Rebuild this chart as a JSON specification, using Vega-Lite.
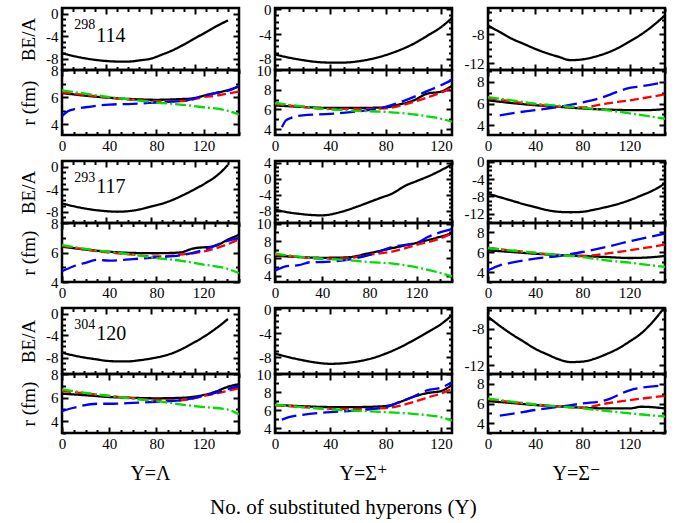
{
"$schema":"https://vega.github.io/schema/vega-lite/v6.json",
"background":"white",
"padding":{"left":17,"top":0,"right":5,"bottom":4},
"datasets":{"d":[
{"p":"L1","s":"BE","x":0,"v":-7.0},{"p":"L1","s":"BE","x":10,"v":-7.5},{"p":"L1","s":"BE","x":20,"v":-7.9},{"p":"L1","s":"BE","x":30,"v":-8.2},{"p":"L1","s":"BE","x":40,"v":-8.4},{"p":"L1","s":"BE","x":50,"v":-8.5},{"p":"L1","s":"BE","x":60,"v":-8.5},{"p":"L1","s":"BE","x":70,"v":-8.3},{"p":"L1","s":"BE","x":80,"v":-8.0},{"p":"L1","s":"BE","x":90,"v":-7.3},{"p":"L1","s":"BE","x":100,"v":-6.5},{"p":"L1","s":"BE","x":110,"v":-5.5},{"p":"L1","s":"BE","x":120,"v":-4.4},{"p":"L1","s":"BE","x":130,"v":-3.3},{"p":"L1","s":"BE","x":140,"v":-2.2},{"p":"L1","s":"BE","x":150,"v":-1.2},
{"p":"L1","s":"rm","x":0,"v":6.3},{"p":"L1","s":"rm","x":20,"v":6.1},{"p":"L1","s":"rm","x":40,"v":5.95},{"p":"L1","s":"rm","x":60,"v":5.85},{"p":"L1","s":"rm","x":80,"v":5.8},{"p":"L1","s":"rm","x":100,"v":5.85},{"p":"L1","s":"rm","x":110,"v":5.9},{"p":"L1","s":"rm","x":120,"v":6.1},{"p":"L1","s":"rm","x":130,"v":6.3},{"p":"L1","s":"rm","x":140,"v":6.5},{"p":"L1","s":"rm","x":150,"v":6.8},
{"p":"L1","s":"rp","x":0,"v":6.35},{"p":"L1","s":"rp","x":20,"v":6.15},{"p":"L1","s":"rp","x":40,"v":5.95},{"p":"L1","s":"rp","x":60,"v":5.8},{"p":"L1","s":"rp","x":80,"v":5.7},{"p":"L1","s":"rp","x":100,"v":5.7},{"p":"L1","s":"rp","x":110,"v":5.8},{"p":"L1","s":"rp","x":120,"v":6.0},{"p":"L1","s":"rp","x":130,"v":6.1},{"p":"L1","s":"rp","x":140,"v":6.25},{"p":"L1","s":"rp","x":150,"v":6.4},
{"p":"L1","s":"rY","x":0,"v":4.6},{"p":"L1","s":"rY","x":5,"v":4.95},{"p":"L1","s":"rY","x":10,"v":5.1},{"p":"L1","s":"rY","x":20,"v":5.25},{"p":"L1","s":"rY","x":40,"v":5.45},{"p":"L1","s":"rY","x":60,"v":5.5},{"p":"L1","s":"rY","x":80,"v":5.6},{"p":"L1","s":"rY","x":100,"v":5.7},{"p":"L1","s":"rY","x":110,"v":5.85},{"p":"L1","s":"rY","x":120,"v":6.1},{"p":"L1","s":"rY","x":130,"v":6.3},{"p":"L1","s":"rY","x":140,"v":6.45},{"p":"L1","s":"rY","x":150,"v":6.8},
{"p":"L1","s":"rn","x":0,"v":6.5},{"p":"L1","s":"rn","x":20,"v":6.25},{"p":"L1","s":"rn","x":40,"v":6.0},{"p":"L1","s":"rn","x":60,"v":5.8},{"p":"L1","s":"rn","x":80,"v":5.6},{"p":"L1","s":"rn","x":100,"v":5.45},{"p":"L1","s":"rn","x":120,"v":5.25},{"p":"L1","s":"rn","x":140,"v":5.0},{"p":"L1","s":"rn","x":150,"v":4.7},
{"p":"P1","s":"BE","x":0,"v":-7.3},{"p":"P1","s":"BE","x":10,"v":-7.8},{"p":"P1","s":"BE","x":20,"v":-8.2},{"p":"P1","s":"BE","x":30,"v":-8.5},{"p":"P1","s":"BE","x":40,"v":-8.6},{"p":"P1","s":"BE","x":50,"v":-8.6},{"p":"P1","s":"BE","x":60,"v":-8.4},{"p":"P1","s":"BE","x":70,"v":-8.0},{"p":"P1","s":"BE","x":80,"v":-7.4},{"p":"P1","s":"BE","x":90,"v":-6.6},{"p":"P1","s":"BE","x":100,"v":-5.6},{"p":"P1","s":"BE","x":110,"v":-4.3},{"p":"P1","s":"BE","x":120,"v":-2.9},{"p":"P1","s":"BE","x":128,"v":-1.4},
{"p":"P1","s":"rm","x":0,"v":6.4},{"p":"P1","s":"rm","x":20,"v":6.25},{"p":"P1","s":"rm","x":40,"v":6.15},{"p":"P1","s":"rm","x":60,"v":6.15},{"p":"P1","s":"rm","x":80,"v":6.2},{"p":"P1","s":"rm","x":90,"v":6.5},{"p":"P1","s":"rm","x":100,"v":6.9},{"p":"P1","s":"rm","x":110,"v":7.6},{"p":"P1","s":"rm","x":120,"v":7.8},{"p":"P1","s":"rm","x":128,"v":8.4},
{"p":"P1","s":"rp","x":0,"v":6.55},{"p":"P1","s":"rp","x":20,"v":6.25},{"p":"P1","s":"rp","x":40,"v":6.05},{"p":"P1","s":"rp","x":60,"v":6.05},{"p":"P1","s":"rp","x":80,"v":6.1},{"p":"P1","s":"rp","x":90,"v":6.35},{"p":"P1","s":"rp","x":100,"v":6.75},{"p":"P1","s":"rp","x":110,"v":7.2},{"p":"P1","s":"rp","x":120,"v":7.7},{"p":"P1","s":"rp","x":128,"v":8.2},
{"p":"P1","s":"rY","x":5,"v":4.2},{"p":"P1","s":"rY","x":8,"v":4.9},{"p":"P1","s":"rY","x":10,"v":5.05},{"p":"P1","s":"rY","x":20,"v":5.4},{"p":"P1","s":"rY","x":40,"v":5.55},{"p":"P1","s":"rY","x":60,"v":5.8},{"p":"P1","s":"rY","x":80,"v":6.25},{"p":"P1","s":"rY","x":90,"v":6.7},{"p":"P1","s":"rY","x":100,"v":7.25},{"p":"P1","s":"rY","x":110,"v":7.85},{"p":"P1","s":"rY","x":120,"v":8.45},{"p":"P1","s":"rY","x":128,"v":9.0},
{"p":"P1","s":"rn","x":0,"v":6.65},{"p":"P1","s":"rn","x":20,"v":6.3},{"p":"P1","s":"rn","x":40,"v":6.0},{"p":"P1","s":"rn","x":60,"v":5.85},{"p":"P1","s":"rn","x":80,"v":5.75},{"p":"P1","s":"rn","x":100,"v":5.5},{"p":"P1","s":"rn","x":110,"v":5.3},{"p":"P1","s":"rn","x":120,"v":5.05},{"p":"P1","s":"rn","x":128,"v":4.75},
{"p":"M1","s":"BE","x":0,"v":-6.8},{"p":"M1","s":"BE","x":10,"v":-7.7},{"p":"M1","s":"BE","x":20,"v":-8.6},{"p":"M1","s":"BE","x":30,"v":-9.3},{"p":"M1","s":"BE","x":40,"v":-10.0},{"p":"M1","s":"BE","x":50,"v":-10.6},{"p":"M1","s":"BE","x":60,"v":-11.1},{"p":"M1","s":"BE","x":70,"v":-11.55},{"p":"M1","s":"BE","x":80,"v":-11.45},{"p":"M1","s":"BE","x":90,"v":-11.1},{"p":"M1","s":"BE","x":100,"v":-10.6},{"p":"M1","s":"BE","x":110,"v":-9.9},{"p":"M1","s":"BE","x":120,"v":-9.0},{"p":"M1","s":"BE","x":130,"v":-8.0},{"p":"M1","s":"BE","x":140,"v":-6.8},{"p":"M1","s":"BE","x":150,"v":-5.4},
{"p":"M1","s":"rm","x":0,"v":6.3},{"p":"M1","s":"rm","x":20,"v":6.05},{"p":"M1","s":"rm","x":40,"v":5.85},{"p":"M1","s":"rm","x":60,"v":5.7},{"p":"M1","s":"rm","x":80,"v":5.55},{"p":"M1","s":"rm","x":100,"v":5.45},{"p":"M1","s":"rm","x":120,"v":5.4},{"p":"M1","s":"rm","x":135,"v":5.4},{"p":"M1","s":"rm","x":150,"v":5.5},
{"p":"M1","s":"rp","x":0,"v":6.5},{"p":"M1","s":"rp","x":20,"v":6.2},{"p":"M1","s":"rp","x":40,"v":5.9},{"p":"M1","s":"rp","x":60,"v":5.7},{"p":"M1","s":"rp","x":80,"v":5.65},{"p":"M1","s":"rp","x":100,"v":6.0},{"p":"M1","s":"rp","x":120,"v":6.3},{"p":"M1","s":"rp","x":150,"v":6.85},
{"p":"M1","s":"rY","x":10,"v":4.9},{"p":"M1","s":"rY","x":20,"v":5.1},{"p":"M1","s":"rY","x":40,"v":5.4},{"p":"M1","s":"rY","x":60,"v":5.7},{"p":"M1","s":"rY","x":80,"v":6.1},{"p":"M1","s":"rY","x":95,"v":6.5},{"p":"M1","s":"rY","x":110,"v":7.1},{"p":"M1","s":"rY","x":120,"v":7.45},{"p":"M1","s":"rY","x":130,"v":7.6},{"p":"M1","s":"rY","x":150,"v":8.0},
{"p":"M1","s":"rn","x":0,"v":6.6},{"p":"M1","s":"rn","x":20,"v":6.3},{"p":"M1","s":"rn","x":40,"v":6.0},{"p":"M1","s":"rn","x":60,"v":5.8},{"p":"M1","s":"rn","x":80,"v":5.6},{"p":"M1","s":"rn","x":100,"v":5.4},{"p":"M1","s":"rn","x":120,"v":5.1},{"p":"M1","s":"rn","x":150,"v":4.6},
{"p":"L2","s":"BE","x":0,"v":-6.5},{"p":"L2","s":"BE","x":10,"v":-7.0},{"p":"L2","s":"BE","x":20,"v":-7.4},{"p":"L2","s":"BE","x":30,"v":-7.7},{"p":"L2","s":"BE","x":40,"v":-7.9},{"p":"L2","s":"BE","x":50,"v":-8.0},{"p":"L2","s":"BE","x":60,"v":-7.9},{"p":"L2","s":"BE","x":70,"v":-7.6},{"p":"L2","s":"BE","x":80,"v":-7.1},{"p":"L2","s":"BE","x":90,"v":-6.6},{"p":"L2","s":"BE","x":100,"v":-5.9},{"p":"L2","s":"BE","x":110,"v":-5.0},{"p":"L2","s":"BE","x":120,"v":-4.0},{"p":"L2","s":"BE","x":130,"v":-2.9},{"p":"L2","s":"BE","x":140,"v":-1.6},{"p":"L2","s":"BE","x":150,"v":0.3},
{"p":"L2","s":"rm","x":0,"v":6.4},{"p":"L2","s":"rm","x":20,"v":6.2},{"p":"L2","s":"rm","x":40,"v":6.05},{"p":"L2","s":"rm","x":60,"v":5.97},{"p":"L2","s":"rm","x":80,"v":5.95},{"p":"L2","s":"rm","x":100,"v":6.0},{"p":"L2","s":"rm","x":110,"v":6.25},{"p":"L2","s":"rm","x":130,"v":6.45},{"p":"L2","s":"rm","x":140,"v":6.85},{"p":"L2","s":"rm","x":150,"v":7.2},
{"p":"L2","s":"rp","x":0,"v":6.45},{"p":"L2","s":"rp","x":20,"v":6.2},{"p":"L2","s":"rp","x":40,"v":6.0},{"p":"L2","s":"rp","x":60,"v":5.85},{"p":"L2","s":"rp","x":80,"v":5.73},{"p":"L2","s":"rp","x":100,"v":5.85},{"p":"L2","s":"rp","x":120,"v":6.07},{"p":"L2","s":"rp","x":140,"v":6.55},{"p":"L2","s":"rp","x":150,"v":6.9},
{"p":"L2","s":"rY","x":0,"v":4.73},{"p":"L2","s":"rY","x":10,"v":5.07},{"p":"L2","s":"rY","x":20,"v":5.3},{"p":"L2","s":"rY","x":30,"v":5.5},{"p":"L2","s":"rY","x":40,"v":5.45},{"p":"L2","s":"rY","x":60,"v":5.55},{"p":"L2","s":"rY","x":80,"v":5.67},{"p":"L2","s":"rY","x":100,"v":5.8},{"p":"L2","s":"rY","x":120,"v":6.18},{"p":"L2","s":"rY","x":140,"v":6.78},{"p":"L2","s":"rY","x":150,"v":7.0},
{"p":"L2","s":"rn","x":0,"v":6.5},{"p":"L2","s":"rn","x":20,"v":6.25},{"p":"L2","s":"rn","x":40,"v":6.05},{"p":"L2","s":"rn","x":60,"v":5.85},{"p":"L2","s":"rn","x":80,"v":5.62},{"p":"L2","s":"rn","x":100,"v":5.45},{"p":"L2","s":"rn","x":120,"v":5.18},{"p":"L2","s":"rn","x":140,"v":4.9},{"p":"L2","s":"rn","x":150,"v":4.6},
{"p":"P2","s":"BE","x":0,"v":-7.6},{"p":"P2","s":"BE","x":10,"v":-8.3},{"p":"P2","s":"BE","x":20,"v":-8.7},{"p":"P2","s":"BE","x":30,"v":-9.0},{"p":"P2","s":"BE","x":40,"v":-9.1},{"p":"P2","s":"BE","x":50,"v":-8.7},{"p":"P2","s":"BE","x":60,"v":-7.9},{"p":"P2","s":"BE","x":70,"v":-6.9},{"p":"P2","s":"BE","x":80,"v":-5.8},{"p":"P2","s":"BE","x":90,"v":-4.7},{"p":"P2","s":"BE","x":100,"v":-3.6},{"p":"P2","s":"BE","x":110,"v":-1.8},{"p":"P2","s":"BE","x":120,"v":-0.6},{"p":"P2","s":"BE","x":130,"v":0.6},{"p":"P2","s":"BE","x":140,"v":2.0},{"p":"P2","s":"BE","x":150,"v":3.6},
{"p":"P2","s":"rm","x":0,"v":6.3},{"p":"P2","s":"rm","x":20,"v":6.15},{"p":"P2","s":"rm","x":40,"v":6.06},{"p":"P2","s":"rm","x":60,"v":6.1},{"p":"P2","s":"rm","x":80,"v":6.6},{"p":"P2","s":"rm","x":100,"v":7.2},{"p":"P2","s":"rm","x":120,"v":7.8},{"p":"P2","s":"rm","x":140,"v":8.5},{"p":"P2","s":"rm","x":150,"v":8.9},
{"p":"P2","s":"rp","x":0,"v":6.4},{"p":"P2","s":"rp","x":20,"v":6.15},{"p":"P2","s":"rp","x":40,"v":5.95},{"p":"P2","s":"rp","x":60,"v":6.0},{"p":"P2","s":"rp","x":80,"v":6.4},{"p":"P2","s":"rp","x":100,"v":6.8},{"p":"P2","s":"rp","x":120,"v":7.55},{"p":"P2","s":"rp","x":140,"v":8.3},{"p":"P2","s":"rp","x":150,"v":8.9},
{"p":"P2","s":"rY","x":0,"v":4.56},{"p":"P2","s":"rY","x":10,"v":5.1},{"p":"P2","s":"rY","x":20,"v":5.2},{"p":"P2","s":"rY","x":30,"v":5.55},{"p":"P2","s":"rY","x":40,"v":5.57},{"p":"P2","s":"rY","x":60,"v":5.8},{"p":"P2","s":"rY","x":80,"v":6.4},{"p":"P2","s":"rY","x":100,"v":7.35},{"p":"P2","s":"rY","x":120,"v":7.8},{"p":"P2","s":"rY","x":130,"v":8.5},{"p":"P2","s":"rY","x":150,"v":9.4},
{"p":"P2","s":"rn","x":0,"v":6.55},{"p":"P2","s":"rn","x":20,"v":6.2},{"p":"P2","s":"rn","x":40,"v":5.95},{"p":"P2","s":"rn","x":60,"v":5.8},{"p":"P2","s":"rn","x":80,"v":5.57},{"p":"P2","s":"rn","x":100,"v":5.38},{"p":"P2","s":"rn","x":120,"v":4.95},{"p":"P2","s":"rn","x":140,"v":4.3},{"p":"P2","s":"rn","x":150,"v":3.9},
{"p":"M2","s":"BE","x":0,"v":-7.4},{"p":"M2","s":"BE","x":10,"v":-8.2},{"p":"M2","s":"BE","x":20,"v":-9.0},{"p":"M2","s":"BE","x":30,"v":-9.8},{"p":"M2","s":"BE","x":40,"v":-10.5},{"p":"M2","s":"BE","x":50,"v":-11.2},{"p":"M2","s":"BE","x":60,"v":-11.6},{"p":"M2","s":"BE","x":70,"v":-11.7},{"p":"M2","s":"BE","x":80,"v":-11.6},{"p":"M2","s":"BE","x":90,"v":-11.1},{"p":"M2","s":"BE","x":100,"v":-10.5},{"p":"M2","s":"BE","x":110,"v":-9.8},{"p":"M2","s":"BE","x":120,"v":-8.9},{"p":"M2","s":"BE","x":130,"v":-7.8},{"p":"M2","s":"BE","x":140,"v":-6.6},{"p":"M2","s":"BE","x":150,"v":-5.0},
{"p":"M2","s":"rm","x":0,"v":6.17},{"p":"M2","s":"rm","x":20,"v":6.0},{"p":"M2","s":"rm","x":40,"v":5.83},{"p":"M2","s":"rm","x":60,"v":5.7},{"p":"M2","s":"rm","x":80,"v":5.6},{"p":"M2","s":"rm","x":100,"v":5.5},{"p":"M2","s":"rm","x":120,"v":5.4},{"p":"M2","s":"rm","x":135,"v":5.45},{"p":"M2","s":"rm","x":150,"v":5.6},
{"p":"M2","s":"rp","x":0,"v":6.4},{"p":"M2","s":"rp","x":20,"v":6.15},{"p":"M2","s":"rp","x":40,"v":5.9},{"p":"M2","s":"rp","x":60,"v":5.67},{"p":"M2","s":"rp","x":80,"v":5.6},{"p":"M2","s":"rp","x":100,"v":5.83},{"p":"M2","s":"rp","x":120,"v":6.17},{"p":"M2","s":"rp","x":150,"v":6.73},
{"p":"M2","s":"rY","x":0,"v":4.17},{"p":"M2","s":"rY","x":10,"v":4.67},{"p":"M2","s":"rY","x":20,"v":4.93},{"p":"M2","s":"rY","x":40,"v":5.33},{"p":"M2","s":"rY","x":60,"v":5.6},{"p":"M2","s":"rY","x":80,"v":6.0},{"p":"M2","s":"rY","x":100,"v":6.5},{"p":"M2","s":"rY","x":120,"v":7.07},{"p":"M2","s":"rY","x":150,"v":7.83},
{"p":"M2","s":"rn","x":0,"v":6.4},{"p":"M2","s":"rn","x":20,"v":6.15},{"p":"M2","s":"rn","x":40,"v":5.93},{"p":"M2","s":"rn","x":60,"v":5.7},{"p":"M2","s":"rn","x":80,"v":5.5},{"p":"M2","s":"rn","x":100,"v":5.17},{"p":"M2","s":"rn","x":120,"v":4.93},{"p":"M2","s":"rn","x":150,"v":4.5},
{"p":"L3","s":"BE","x":0,"v":-7.1},{"p":"L3","s":"BE","x":10,"v":-7.6},{"p":"L3","s":"BE","x":20,"v":-8.0},{"p":"L3","s":"BE","x":30,"v":-8.3},{"p":"L3","s":"BE","x":40,"v":-8.6},{"p":"L3","s":"BE","x":50,"v":-8.7},{"p":"L3","s":"BE","x":60,"v":-8.7},{"p":"L3","s":"BE","x":70,"v":-8.5},{"p":"L3","s":"BE","x":80,"v":-8.2},{"p":"L3","s":"BE","x":90,"v":-7.8},{"p":"L3","s":"BE","x":100,"v":-7.2},{"p":"L3","s":"BE","x":110,"v":-6.3},{"p":"L3","s":"BE","x":120,"v":-5.2},{"p":"L3","s":"BE","x":130,"v":-4.0},{"p":"L3","s":"BE","x":140,"v":-2.6},{"p":"L3","s":"BE","x":150,"v":-1.0},
{"p":"L3","s":"rm","x":0,"v":6.33},{"p":"L3","s":"rm","x":20,"v":6.2},{"p":"L3","s":"rm","x":40,"v":6.05},{"p":"L3","s":"rm","x":60,"v":5.98},{"p":"L3","s":"rm","x":80,"v":5.94},{"p":"L3","s":"rm","x":100,"v":5.98},{"p":"L3","s":"rm","x":110,"v":6.05},{"p":"L3","s":"rm","x":130,"v":6.5},{"p":"L3","s":"rm","x":140,"v":6.9},{"p":"L3","s":"rm","x":150,"v":7.14},
{"p":"L3","s":"rp","x":0,"v":6.56},{"p":"L3","s":"rp","x":20,"v":6.35},{"p":"L3","s":"rp","x":40,"v":6.14},{"p":"L3","s":"rp","x":60,"v":5.95},{"p":"L3","s":"rp","x":80,"v":5.8},{"p":"L3","s":"rp","x":100,"v":5.77},{"p":"L3","s":"rp","x":120,"v":6.14},{"p":"L3","s":"rp","x":140,"v":6.56},{"p":"L3","s":"rp","x":150,"v":6.8},
{"p":"L3","s":"rY","x":0,"v":4.85},{"p":"L3","s":"rY","x":10,"v":5.14},{"p":"L3","s":"rY","x":30,"v":5.48},{"p":"L3","s":"rY","x":40,"v":5.48},{"p":"L3","s":"rY","x":60,"v":5.55},{"p":"L3","s":"rY","x":80,"v":5.65},{"p":"L3","s":"rY","x":100,"v":5.77},{"p":"L3","s":"rY","x":120,"v":6.14},{"p":"L3","s":"rY","x":140,"v":6.7},{"p":"L3","s":"rY","x":150,"v":7.0},
{"p":"L3","s":"rn","x":0,"v":6.7},{"p":"L3","s":"rn","x":20,"v":6.4},{"p":"L3","s":"rn","x":40,"v":6.14},{"p":"L3","s":"rn","x":60,"v":5.9},{"p":"L3","s":"rn","x":80,"v":5.71},{"p":"L3","s":"rn","x":100,"v":5.43},{"p":"L3","s":"rn","x":120,"v":5.2},{"p":"L3","s":"rn","x":140,"v":5.0},{"p":"L3","s":"rn","x":150,"v":4.57},
{"p":"P3","s":"BE","x":0,"v":-7.4},{"p":"P3","s":"BE","x":10,"v":-8.0},{"p":"P3","s":"BE","x":20,"v":-8.5},{"p":"P3","s":"BE","x":30,"v":-8.9},{"p":"P3","s":"BE","x":40,"v":-9.1},{"p":"P3","s":"BE","x":50,"v":-9.0},{"p":"P3","s":"BE","x":60,"v":-8.7},{"p":"P3","s":"BE","x":70,"v":-8.2},{"p":"P3","s":"BE","x":80,"v":-7.4},{"p":"P3","s":"BE","x":90,"v":-6.4},{"p":"P3","s":"BE","x":100,"v":-5.2},{"p":"P3","s":"BE","x":110,"v":-3.9},{"p":"P3","s":"BE","x":120,"v":-2.5},{"p":"P3","s":"BE","x":128,"v":-1.0},
{"p":"P3","s":"rm","x":0,"v":6.6},{"p":"P3","s":"rm","x":20,"v":6.45},{"p":"P3","s":"rm","x":40,"v":6.36},{"p":"P3","s":"rm","x":60,"v":6.36},{"p":"P3","s":"rm","x":80,"v":6.47},{"p":"P3","s":"rm","x":90,"v":6.9},{"p":"P3","s":"rm","x":100,"v":7.48},{"p":"P3","s":"rm","x":110,"v":7.9},{"p":"P3","s":"rm","x":120,"v":8.12},{"p":"P3","s":"rm","x":128,"v":8.8},
{"p":"P3","s":"rp","x":0,"v":6.55},{"p":"P3","s":"rp","x":20,"v":6.35},{"p":"P3","s":"rp","x":40,"v":6.17},{"p":"P3","s":"rp","x":60,"v":6.15},{"p":"P3","s":"rp","x":80,"v":6.25},{"p":"P3","s":"rp","x":90,"v":6.5},{"p":"P3","s":"rp","x":100,"v":6.9},{"p":"P3","s":"rp","x":110,"v":7.4},{"p":"P3","s":"rp","x":120,"v":7.85},{"p":"P3","s":"rp","x":128,"v":8.35},
{"p":"P3","s":"rY","x":5,"v":4.98},{"p":"P3","s":"rY","x":10,"v":5.24},{"p":"P3","s":"rY","x":20,"v":5.5},{"p":"P3","s":"rY","x":40,"v":5.8},{"p":"P3","s":"rY","x":60,"v":6.0},{"p":"P3","s":"rY","x":80,"v":6.36},{"p":"P3","s":"rY","x":90,"v":6.9},{"p":"P3","s":"rY","x":100,"v":7.5},{"p":"P3","s":"rY","x":110,"v":8.2},{"p":"P3","s":"rY","x":120,"v":8.5},{"p":"P3","s":"rY","x":128,"v":9.1},
{"p":"P3","s":"rn","x":0,"v":6.62},{"p":"P3","s":"rn","x":20,"v":6.35},{"p":"P3","s":"rn","x":40,"v":6.1},{"p":"P3","s":"rn","x":60,"v":5.95},{"p":"P3","s":"rn","x":80,"v":5.8},{"p":"P3","s":"rn","x":100,"v":5.6},{"p":"P3","s":"rn","x":120,"v":5.24},{"p":"P3","s":"rn","x":128,"v":4.87},
{"p":"M3","s":"BE","x":0,"v":-6.7},{"p":"M3","s":"BE","x":10,"v":-7.7},{"p":"M3","s":"BE","x":20,"v":-8.6},{"p":"M3","s":"BE","x":30,"v":-9.4},{"p":"M3","s":"BE","x":40,"v":-10.2},{"p":"M3","s":"BE","x":50,"v":-10.8},{"p":"M3","s":"BE","x":60,"v":-11.35},{"p":"M3","s":"BE","x":70,"v":-11.65},{"p":"M3","s":"BE","x":80,"v":-11.6},{"p":"M3","s":"BE","x":90,"v":-11.3},{"p":"M3","s":"BE","x":100,"v":-10.8},{"p":"M3","s":"BE","x":110,"v":-10.2},{"p":"M3","s":"BE","x":120,"v":-9.4},{"p":"M3","s":"BE","x":130,"v":-8.5},{"p":"M3","s":"BE","x":140,"v":-7.2},{"p":"M3","s":"BE","x":150,"v":-5.6},
{"p":"M3","s":"rm","x":0,"v":6.24},{"p":"M3","s":"rm","x":20,"v":6.05},{"p":"M3","s":"rm","x":40,"v":5.84},{"p":"M3","s":"rm","x":60,"v":5.7},{"p":"M3","s":"rm","x":80,"v":5.57},{"p":"M3","s":"rm","x":100,"v":5.5},{"p":"M3","s":"rm","x":120,"v":5.5},{"p":"M3","s":"rm","x":130,"v":5.67},{"p":"M3","s":"rm","x":150,"v":5.5},
{"p":"M3","s":"rp","x":0,"v":6.44},{"p":"M3","s":"rp","x":20,"v":6.15},{"p":"M3","s":"rp","x":40,"v":5.9},{"p":"M3","s":"rp","x":60,"v":5.7},{"p":"M3","s":"rp","x":80,"v":5.57},{"p":"M3","s":"rp","x":100,"v":6.0},{"p":"M3","s":"rp","x":120,"v":6.34},{"p":"M3","s":"rp","x":150,"v":6.77},
{"p":"M3","s":"rY","x":10,"v":4.77},{"p":"M3","s":"rY","x":20,"v":4.95},{"p":"M3","s":"rY","x":40,"v":5.34},{"p":"M3","s":"rY","x":60,"v":5.67},{"p":"M3","s":"rY","x":80,"v":6.0},{"p":"M3","s":"rY","x":100,"v":6.34},{"p":"M3","s":"rY","x":120,"v":7.34},{"p":"M3","s":"rY","x":150,"v":7.84},
{"p":"M3","s":"rn","x":0,"v":6.5},{"p":"M3","s":"rn","x":20,"v":6.2},{"p":"M3","s":"rn","x":40,"v":5.9},{"p":"M3","s":"rn","x":60,"v":5.7},{"p":"M3","s":"rn","x":80,"v":5.5},{"p":"M3","s":"rn","x":100,"v":5.24},{"p":"M3","s":"rn","x":120,"v":5.0},{"p":"M3","s":"rn","x":150,"v":4.67}
]},
"data":{"name":"d"},
"title":{"text":"No. of substituted hyperons (Y)","orient":"bottom","offset":12,"fontSize":21},
"columns":3,
"spacing":{"row":0,"column":36},
"bounds":"flush",
"concat":[
  {"width":177,"height":62,"transform":[{"filter":"datum.p==='L1'&&datum.s==='BE'"}],
   "layer":[
    {"mark":{"type":"line","interpolate":"monotone","strokeWidth":2.3,"clip":true},
     "encoding":{
      "x":{"field":"x","type":"quantitative","scale":{"domain":[0,150]},"axis":{"orient":"bottom","values":[0,10,20,30,40,50,60,70,80,90,100,110,120,130,140,150],"labels":false,"title":null,"tickSize":{"condition":{"test":"datum.value % 40 === 0","value":-6},"value":-3.5}}},
      "y":{"field":"v","type":"quantitative","scale":{"domain":[-9.8,0.2]},"axis":{"orient":"left","values":[-9,-8,-7,-6,-5,-4,-3,-2,-1,0],"title":"BE/A","titleX":-24,"labelExpr":"datum.value % 4 === 0 ? toString(datum.value) : ''","tickSize":{"condition":{"test":"datum.value % 4 === 0","value":-6},"value":-3.5}}},
      "color":{"field":"s","type":"nominal","scale":{"domain":["BE","rm","rp","rY","rn"],"range":["#000000","#000000","#ff0000","#0000ff","#00dd00"]},"legend":null},
      "strokeDash":{"field":"s","type":"nominal","scale":{"domain":["BE","rm","rp","rY","rn"],"range":[[1,0],[1,0],[9,4],[15,6],[11,3,2,3]]},"legend":null}}},
    {"mark":{"type":"point","opacity":0},
     "encoding":{
      "x":{"field":"x","type":"quantitative","scale":{"domain":[0,150]},"axis":{"orient":"top","values":[0,10,20,30,40,50,60,70,80,90,100,110,120,130,140,150],"labels":false,"title":null,"tickSize":{"condition":{"test":"datum.value % 40 === 0","value":-6},"value":-3.5}}},
      "y":{"field":"v","type":"quantitative","scale":{"domain":[-9.8,0.2]},"axis":{"orient":"right","values":[-9,-8,-7,-6,-5,-4,-3,-2,-1,0],"labels":false,"title":null,"tickSize":{"condition":{"test":"datum.value % 4 === 0","value":-6},"value":-3.5}}}}},
    {"data":{"values":[{"t":"298"}]},"mark":{"type":"text","fontSize":14,"align":"left","baseline":"middle"},"encoding":{"text":{"field":"t","type":"nominal"},"x":{"datum":11,"axis":null},"y":{"datum":-2.1,"axis":null}}},
    {"data":{"values":[{"t":"114"}]},"mark":{"type":"text","fontSize":20,"align":"left","baseline":"middle"},"encoding":{"text":{"field":"t","type":"nominal"},"x":{"datum":31,"axis":null},"y":{"datum":-3.9,"axis":null}}}
   ],
   "resolve":{"axis":{"x":"independent","y":"independent"}}},
  {"width":177,"height":62,"transform":[{"filter":"datum.p==='P1'&&datum.s==='BE'"}],
   "layer":[
    {"mark":{"type":"line","interpolate":"monotone","strokeWidth":2.3,"clip":true},
     "encoding":{
      "x":{"field":"x","type":"quantitative","scale":{"domain":[0,128]},"axis":{"orient":"bottom","values":[0,10,20,30,40,50,60,70,80,90,100,110,120],"labels":false,"title":null,"tickSize":{"condition":{"test":"datum.value % 40 === 0","value":-6},"value":-3.5}}},
      "y":{"field":"v","type":"quantitative","scale":{"domain":[-9.8,0.2]},"axis":{"orient":"left","values":[-9,-8,-7,-6,-5,-4,-3,-2,-1,0],"title":null,"labelExpr":"datum.value % 4 === 0 ? toString(datum.value) : ''","tickSize":{"condition":{"test":"datum.value % 4 === 0","value":-6},"value":-3.5}}},
      "color":{"field":"s","type":"nominal","scale":{"domain":["BE","rm","rp","rY","rn"],"range":["#000000","#000000","#ff0000","#0000ff","#00dd00"]},"legend":null},
      "strokeDash":{"field":"s","type":"nominal","scale":{"domain":["BE","rm","rp","rY","rn"],"range":[[1,0],[1,0],[9,4],[15,6],[11,3,2,3]]},"legend":null}}},
    {"mark":{"type":"point","opacity":0},
     "encoding":{
      "x":{"field":"x","type":"quantitative","scale":{"domain":[0,128]},"axis":{"orient":"top","values":[0,10,20,30,40,50,60,70,80,90,100,110,120],"labels":false,"title":null,"tickSize":{"condition":{"test":"datum.value % 40 === 0","value":-6},"value":-3.5}}},
      "y":{"field":"v","type":"quantitative","scale":{"domain":[-9.8,0.2]},"axis":{"orient":"right","values":[-9,-8,-7,-6,-5,-4,-3,-2,-1,0],"labels":false,"title":null,"tickSize":{"condition":{"test":"datum.value % 4 === 0","value":-6},"value":-3.5}}}}}
   ],
   "resolve":{"axis":{"x":"independent","y":"independent"}}},
  {"width":177,"height":62,"transform":[{"filter":"datum.p==='M1'&&datum.s==='BE'"}],
   "layer":[
    {"mark":{"type":"line","interpolate":"monotone","strokeWidth":2.3,"clip":true},
     "encoding":{
      "x":{"field":"x","type":"quantitative","scale":{"domain":[0,150]},"axis":{"orient":"bottom","values":[0,10,20,30,40,50,60,70,80,90,100,110,120,130,140,150],"labels":false,"title":null,"tickSize":{"condition":{"test":"datum.value % 40 === 0","value":-6},"value":-3.5}}},
      "y":{"field":"v","type":"quantitative","scale":{"domain":[-12.9,-4.4]},"axis":{"orient":"left","values":[-12,-11,-10,-9,-8,-7,-6,-5],"title":null,"labelExpr":"datum.value % 4 === 0 ? toString(datum.value) : ''","tickSize":{"condition":{"test":"datum.value % 4 === 0","value":-6},"value":-3.5}}},
      "color":{"field":"s","type":"nominal","scale":{"domain":["BE","rm","rp","rY","rn"],"range":["#000000","#000000","#ff0000","#0000ff","#00dd00"]},"legend":null},
      "strokeDash":{"field":"s","type":"nominal","scale":{"domain":["BE","rm","rp","rY","rn"],"range":[[1,0],[1,0],[9,4],[15,6],[11,3,2,3]]},"legend":null}}},
    {"mark":{"type":"point","opacity":0},
     "encoding":{
      "x":{"field":"x","type":"quantitative","scale":{"domain":[0,150]},"axis":{"orient":"top","values":[0,10,20,30,40,50,60,70,80,90,100,110,120,130,140,150],"labels":false,"title":null,"tickSize":{"condition":{"test":"datum.value % 40 === 0","value":-6},"value":-3.5}}},
      "y":{"field":"v","type":"quantitative","scale":{"domain":[-12.9,-4.4]},"axis":{"orient":"right","values":[-12,-11,-10,-9,-8,-7,-6,-5],"labels":false,"title":null,"tickSize":{"condition":{"test":"datum.value % 4 === 0","value":-6},"value":-3.5}}}}}
   ],
   "resolve":{"axis":{"x":"independent","y":"independent"}}},

  {"width":177,"height":65,"transform":[{"filter":"datum.p==='L1'&&datum.s!=='BE'"}],
   "layer":[
    {"mark":{"type":"line","interpolate":"monotone","strokeWidth":2.3,"clip":true},
     "encoding":{
      "x":{"field":"x","type":"quantitative","scale":{"domain":[0,150]},"axis":{"orient":"bottom","values":[0,10,20,30,40,50,60,70,80,90,100,110,120,130,140,150],"title":null,"labelExpr":"datum.value % 40 === 0 ? datum.label : ''","tickSize":{"condition":{"test":"datum.value % 40 === 0","value":-6},"value":-3.5}}},
      "y":{"field":"v","type":"quantitative","scale":{"domain":[3.2,8]},"axis":{"orient":"left","values":[4,5,6,7,8],"title":"r (fm)","titleX":-24,"labelExpr":"datum.value % 2 === 0 ? toString(datum.value) : ''","tickSize":{"condition":{"test":"datum.value % 2 === 0","value":-6},"value":-3.5}}},
      "color":{"field":"s","type":"nominal","scale":{"domain":["BE","rm","rp","rY","rn"],"range":["#000000","#000000","#ff0000","#0000ff","#00dd00"]},"legend":null},
      "strokeDash":{"field":"s","type":"nominal","scale":{"domain":["BE","rm","rp","rY","rn"],"range":[[1,0],[1,0],[9,4],[15,6],[11,3,2,3]]},"legend":null}}},
    {"mark":{"type":"point","opacity":0},
     "encoding":{
      "x":{"field":"x","type":"quantitative","scale":{"domain":[0,150]},"axis":{"orient":"top","values":[0,10,20,30,40,50,60,70,80,90,100,110,120,130,140,150],"labels":false,"title":null,"tickSize":{"condition":{"test":"datum.value % 40 === 0","value":-6},"value":-3.5}}},
      "y":{"field":"v","type":"quantitative","scale":{"domain":[3.2,8]},"axis":{"orient":"right","values":[4,5,6,7,8],"labels":false,"title":null,"tickSize":{"condition":{"test":"datum.value % 2 === 0","value":-6},"value":-3.5}}}}}
   ],
   "resolve":{"axis":{"x":"independent","y":"independent"}}},
  {"width":177,"height":65,"transform":[{"filter":"datum.p==='P1'&&datum.s!=='BE'"}],
   "layer":[
    {"mark":{"type":"line","interpolate":"monotone","strokeWidth":2.3,"clip":true},
     "encoding":{
      "x":{"field":"x","type":"quantitative","scale":{"domain":[0,128]},"axis":{"orient":"bottom","values":[0,10,20,30,40,50,60,70,80,90,100,110,120],"title":null,"labelExpr":"datum.value % 40 === 0 ? datum.label : ''","tickSize":{"condition":{"test":"datum.value % 40 === 0","value":-6},"value":-3.5}}},
      "y":{"field":"v","type":"quantitative","scale":{"domain":[3.4,10]},"axis":{"orient":"left","values":[4,5,6,7,8,9,10],"title":null,"labelExpr":"datum.value % 2 === 0 ? toString(datum.value) : ''","tickSize":{"condition":{"test":"datum.value % 2 === 0","value":-6},"value":-3.5}}},
      "color":{"field":"s","type":"nominal","scale":{"domain":["BE","rm","rp","rY","rn"],"range":["#000000","#000000","#ff0000","#0000ff","#00dd00"]},"legend":null},
      "strokeDash":{"field":"s","type":"nominal","scale":{"domain":["BE","rm","rp","rY","rn"],"range":[[1,0],[1,0],[9,4],[15,6],[11,3,2,3]]},"legend":null}}},
    {"mark":{"type":"point","opacity":0},
     "encoding":{
      "x":{"field":"x","type":"quantitative","scale":{"domain":[0,128]},"axis":{"orient":"top","values":[0,10,20,30,40,50,60,70,80,90,100,110,120],"labels":false,"title":null,"tickSize":{"condition":{"test":"datum.value % 40 === 0","value":-6},"value":-3.5}}},
      "y":{"field":"v","type":"quantitative","scale":{"domain":[3.4,10]},"axis":{"orient":"right","values":[4,5,6,7,8,9,10],"labels":false,"title":null,"tickSize":{"condition":{"test":"datum.value % 2 === 0","value":-6},"value":-3.5}}}}}
   ],
   "resolve":{"axis":{"x":"independent","y":"independent"}}},
  {"width":177,"height":65,"transform":[{"filter":"datum.p==='M1'&&datum.s!=='BE'"}],
   "layer":[
    {"mark":{"type":"line","interpolate":"monotone","strokeWidth":2.3,"clip":true},
     "encoding":{
      "x":{"field":"x","type":"quantitative","scale":{"domain":[0,150]},"axis":{"orient":"bottom","values":[0,10,20,30,40,50,60,70,80,90,100,110,120,130,140,150],"title":null,"labelExpr":"datum.value % 40 === 0 ? datum.label : ''","tickSize":{"condition":{"test":"datum.value % 40 === 0","value":-6},"value":-3.5}}},
      "y":{"field":"v","type":"quantitative","scale":{"domain":[3.1,9.1]},"axis":{"orient":"left","values":[4,5,6,7,8,9],"title":null,"labelExpr":"datum.value % 2 === 0 ? toString(datum.value) : ''","tickSize":{"condition":{"test":"datum.value % 2 === 0","value":-6},"value":-3.5}}},
      "color":{"field":"s","type":"nominal","scale":{"domain":["BE","rm","rp","rY","rn"],"range":["#000000","#000000","#ff0000","#0000ff","#00dd00"]},"legend":null},
      "strokeDash":{"field":"s","type":"nominal","scale":{"domain":["BE","rm","rp","rY","rn"],"range":[[1,0],[1,0],[9,4],[15,6],[11,3,2,3]]},"legend":null}}},
    {"mark":{"type":"point","opacity":0},
     "encoding":{
      "x":{"field":"x","type":"quantitative","scale":{"domain":[0,150]},"axis":{"orient":"top","values":[0,10,20,30,40,50,60,70,80,90,100,110,120,130,140,150],"labels":false,"title":null,"tickSize":{"condition":{"test":"datum.value % 40 === 0","value":-6},"value":-3.5}}},
      "y":{"field":"v","type":"quantitative","scale":{"domain":[3.1,9.1]},"axis":{"orient":"right","values":[4,5,6,7,8,9],"labels":false,"title":null,"tickSize":{"condition":{"test":"datum.value % 2 === 0","value":-6},"value":-3.5}}}}}
   ],
   "resolve":{"axis":{"x":"independent","y":"independent"}}},

  {"width":177,"height":26,"view":{"stroke":null},"transform":[{"filter":"false"}],"mark":{"type":"point","opacity":0}},
  {"width":177,"height":26,"view":{"stroke":null},"transform":[{"filter":"false"}],"mark":{"type":"point","opacity":0}},
  {"width":177,"height":26,"view":{"stroke":null},"transform":[{"filter":"false"}],"mark":{"type":"point","opacity":0}},

  {"width":177,"height":62,"transform":[{"filter":"datum.p==='L2'&&datum.s==='BE'"}],
   "layer":[
    {"mark":{"type":"line","interpolate":"monotone","strokeWidth":2.3,"clip":true},
     "encoding":{
      "x":{"field":"x","type":"quantitative","scale":{"domain":[0,150]},"axis":{"orient":"bottom","values":[0,10,20,30,40,50,60,70,80,90,100,110,120,130,140,150],"labels":false,"title":null,"tickSize":{"condition":{"test":"datum.value % 40 === 0","value":-6},"value":-3.5}}},
      "y":{"field":"v","type":"quantitative","scale":{"domain":[-9.7,0.45]},"axis":{"orient":"left","values":[-9,-8,-7,-6,-5,-4,-3,-2,-1,0],"title":"BE/A","titleX":-24,"labelExpr":"datum.value % 4 === 0 ? toString(datum.value) : ''","tickSize":{"condition":{"test":"datum.value % 4 === 0","value":-6},"value":-3.5}}},
      "color":{"field":"s","type":"nominal","scale":{"domain":["BE","rm","rp","rY","rn"],"range":["#000000","#000000","#ff0000","#0000ff","#00dd00"]},"legend":null},
      "strokeDash":{"field":"s","type":"nominal","scale":{"domain":["BE","rm","rp","rY","rn"],"range":[[1,0],[1,0],[9,4],[15,6],[11,3,2,3]]},"legend":null}}},
    {"mark":{"type":"point","opacity":0},
     "encoding":{
      "x":{"field":"x","type":"quantitative","scale":{"domain":[0,150]},"axis":{"orient":"top","values":[0,10,20,30,40,50,60,70,80,90,100,110,120,130,140,150],"labels":false,"title":null,"tickSize":{"condition":{"test":"datum.value % 40 === 0","value":-6},"value":-3.5}}},
      "y":{"field":"v","type":"quantitative","scale":{"domain":[-9.7,0.45]},"axis":{"orient":"right","values":[-9,-8,-7,-6,-5,-4,-3,-2,-1,0],"labels":false,"title":null,"tickSize":{"condition":{"test":"datum.value % 4 === 0","value":-6},"value":-3.5}}}}},
    {"data":{"values":[{"t":"293"}]},"mark":{"type":"text","fontSize":14,"align":"left","baseline":"middle"},"encoding":{"text":{"field":"t","type":"nominal"},"x":{"datum":11,"axis":null},"y":{"datum":-2.1,"axis":null}}},
    {"data":{"values":[{"t":"117"}]},"mark":{"type":"text","fontSize":20,"align":"left","baseline":"middle"},"encoding":{"text":{"field":"t","type":"nominal"},"x":{"datum":31,"axis":null},"y":{"datum":-3.6,"axis":null}}}
   ],
   "resolve":{"axis":{"x":"independent","y":"independent"}}},
  {"width":177,"height":62,"transform":[{"filter":"datum.p==='P2'&&datum.s==='BE'"}],
   "layer":[
    {"mark":{"type":"line","interpolate":"monotone","strokeWidth":2.3,"clip":true},
     "encoding":{
      "x":{"field":"x","type":"quantitative","scale":{"domain":[0,150]},"axis":{"orient":"bottom","values":[0,10,20,30,40,50,60,70,80,90,100,110,120,130,140,150],"labels":false,"title":null,"tickSize":{"condition":{"test":"datum.value % 40 === 0","value":-6},"value":-3.5}}},
      "y":{"field":"v","type":"quantitative","scale":{"domain":[-11,4.4]},"axis":{"orient":"left","values":[-11,-10,-9,-8,-7,-6,-5,-4,-3,-2,-1,0,1,2,3,4],"title":null,"labelExpr":"datum.value % 4 === 0 ? toString(datum.value) : ''","tickSize":{"condition":{"test":"datum.value % 4 === 0","value":-6},"value":-3.5}}},
      "color":{"field":"s","type":"nominal","scale":{"domain":["BE","rm","rp","rY","rn"],"range":["#000000","#000000","#ff0000","#0000ff","#00dd00"]},"legend":null},
      "strokeDash":{"field":"s","type":"nominal","scale":{"domain":["BE","rm","rp","rY","rn"],"range":[[1,0],[1,0],[9,4],[15,6],[11,3,2,3]]},"legend":null}}},
    {"mark":{"type":"point","opacity":0},
     "encoding":{
      "x":{"field":"x","type":"quantitative","scale":{"domain":[0,150]},"axis":{"orient":"top","values":[0,10,20,30,40,50,60,70,80,90,100,110,120,130,140,150],"labels":false,"title":null,"tickSize":{"condition":{"test":"datum.value % 40 === 0","value":-6},"value":-3.5}}},
      "y":{"field":"v","type":"quantitative","scale":{"domain":[-11,4.4]},"axis":{"orient":"right","values":[-11,-10,-9,-8,-7,-6,-5,-4,-3,-2,-1,0,1,2,3,4],"labels":false,"title":null,"tickSize":{"condition":{"test":"datum.value % 4 === 0","value":-6},"value":-3.5}}}}}
   ],
   "resolve":{"axis":{"x":"independent","y":"independent"}}},
  {"width":177,"height":62,"transform":[{"filter":"datum.p==='M2'&&datum.s==='BE'"}],
   "layer":[
    {"mark":{"type":"line","interpolate":"monotone","strokeWidth":2.3,"clip":true},
     "encoding":{
      "x":{"field":"x","type":"quantitative","scale":{"domain":[0,150]},"axis":{"orient":"bottom","values":[0,10,20,30,40,50,60,70,80,90,100,110,120,130,140,150],"labels":false,"title":null,"tickSize":{"condition":{"test":"datum.value % 40 === 0","value":-6},"value":-3.5}}},
      "y":{"field":"v","type":"quantitative","scale":{"domain":[-14.2,0.2]},"axis":{"orient":"left","values":[-14,-13,-12,-11,-10,-9,-8,-7,-6,-5,-4,-3,-2,-1,0],"title":null,"labelExpr":"datum.value % 4 === 0 ? toString(datum.value) : ''","tickSize":{"condition":{"test":"datum.value % 4 === 0","value":-6},"value":-3.5}}},
      "color":{"field":"s","type":"nominal","scale":{"domain":["BE","rm","rp","rY","rn"],"range":["#000000","#000000","#ff0000","#0000ff","#00dd00"]},"legend":null},
      "strokeDash":{"field":"s","type":"nominal","scale":{"domain":["BE","rm","rp","rY","rn"],"range":[[1,0],[1,0],[9,4],[15,6],[11,3,2,3]]},"legend":null}}},
    {"mark":{"type":"point","opacity":0},
     "encoding":{
      "x":{"field":"x","type":"quantitative","scale":{"domain":[0,150]},"axis":{"orient":"top","values":[0,10,20,30,40,50,60,70,80,90,100,110,120,130,140,150],"labels":false,"title":null,"tickSize":{"condition":{"test":"datum.value % 40 === 0","value":-6},"value":-3.5}}},
      "y":{"field":"v","type":"quantitative","scale":{"domain":[-14.2,0.2]},"axis":{"orient":"right","values":[-14,-13,-12,-11,-10,-9,-8,-7,-6,-5,-4,-3,-2,-1,0],"labels":false,"title":null,"tickSize":{"condition":{"test":"datum.value % 4 === 0","value":-6},"value":-3.5}}}}}
   ],
   "resolve":{"axis":{"x":"independent","y":"independent"}}},

  {"width":177,"height":59,"transform":[{"filter":"datum.p==='L2'&&datum.s!=='BE'"}],
   "layer":[
    {"mark":{"type":"line","interpolate":"monotone","strokeWidth":2.3,"clip":true},
     "encoding":{
      "x":{"field":"x","type":"quantitative","scale":{"domain":[0,150]},"axis":{"orient":"bottom","values":[0,10,20,30,40,50,60,70,80,90,100,110,120,130,140,150],"title":null,"labelExpr":"datum.value % 40 === 0 ? datum.label : ''","tickSize":{"condition":{"test":"datum.value % 40 === 0","value":-6},"value":-3.5}}},
      "y":{"field":"v","type":"quantitative","scale":{"domain":[4,8]},"axis":{"orient":"left","values":[4,5,6,7,8],"title":"r (fm)","titleX":-24,"labelExpr":"datum.value % 2 === 0 ? toString(datum.value) : ''","tickSize":{"condition":{"test":"datum.value % 2 === 0","value":-6},"value":-3.5}}},
      "color":{"field":"s","type":"nominal","scale":{"domain":["BE","rm","rp","rY","rn"],"range":["#000000","#000000","#ff0000","#0000ff","#00dd00"]},"legend":null},
      "strokeDash":{"field":"s","type":"nominal","scale":{"domain":["BE","rm","rp","rY","rn"],"range":[[1,0],[1,0],[9,4],[15,6],[11,3,2,3]]},"legend":null}}},
    {"mark":{"type":"point","opacity":0},
     "encoding":{
      "x":{"field":"x","type":"quantitative","scale":{"domain":[0,150]},"axis":{"orient":"top","values":[0,10,20,30,40,50,60,70,80,90,100,110,120,130,140,150],"labels":false,"title":null,"tickSize":{"condition":{"test":"datum.value % 40 === 0","value":-6},"value":-3.5}}},
      "y":{"field":"v","type":"quantitative","scale":{"domain":[4,8]},"axis":{"orient":"right","values":[4,5,6,7,8],"labels":false,"title":null,"tickSize":{"condition":{"test":"datum.value % 2 === 0","value":-6},"value":-3.5}}}}}
   ],
   "resolve":{"axis":{"x":"independent","y":"independent"}}},
  {"width":177,"height":59,"transform":[{"filter":"datum.p==='P2'&&datum.s!=='BE'"}],
   "layer":[
    {"mark":{"type":"line","interpolate":"monotone","strokeWidth":2.3,"clip":true},
     "encoding":{
      "x":{"field":"x","type":"quantitative","scale":{"domain":[0,150]},"axis":{"orient":"bottom","values":[0,10,20,30,40,50,60,70,80,90,100,110,120,130,140,150],"title":null,"labelExpr":"datum.value % 40 === 0 ? datum.label : ''","tickSize":{"condition":{"test":"datum.value % 40 === 0","value":-6},"value":-3.5}}},
      "y":{"field":"v","type":"quantitative","scale":{"domain":[3.25,10.1]},"axis":{"orient":"left","values":[4,5,6,7,8,9,10],"title":null,"labelExpr":"datum.value % 2 === 0 ? toString(datum.value) : ''","tickSize":{"condition":{"test":"datum.value % 2 === 0","value":-6},"value":-3.5}}},
      "color":{"field":"s","type":"nominal","scale":{"domain":["BE","rm","rp","rY","rn"],"range":["#000000","#000000","#ff0000","#0000ff","#00dd00"]},"legend":null},
      "strokeDash":{"field":"s","type":"nominal","scale":{"domain":["BE","rm","rp","rY","rn"],"range":[[1,0],[1,0],[9,4],[15,6],[11,3,2,3]]},"legend":null}}},
    {"mark":{"type":"point","opacity":0},
     "encoding":{
      "x":{"field":"x","type":"quantitative","scale":{"domain":[0,150]},"axis":{"orient":"top","values":[0,10,20,30,40,50,60,70,80,90,100,110,120,130,140,150],"labels":false,"title":null,"tickSize":{"condition":{"test":"datum.value % 40 === 0","value":-6},"value":-3.5}}},
      "y":{"field":"v","type":"quantitative","scale":{"domain":[3.25,10.1]},"axis":{"orient":"right","values":[4,5,6,7,8,9,10],"labels":false,"title":null,"tickSize":{"condition":{"test":"datum.value % 2 === 0","value":-6},"value":-3.5}}}}}
   ],
   "resolve":{"axis":{"x":"independent","y":"independent"}}},
  {"width":177,"height":59,"transform":[{"filter":"datum.p==='M2'&&datum.s!=='BE'"}],
   "layer":[
    {"mark":{"type":"line","interpolate":"monotone","strokeWidth":2.3,"clip":true},
     "encoding":{
      "x":{"field":"x","type":"quantitative","scale":{"domain":[0,150]},"axis":{"orient":"bottom","values":[0,10,20,30,40,50,60,70,80,90,100,110,120,130,140,150],"title":null,"labelExpr":"datum.value % 40 === 0 ? datum.label : ''","tickSize":{"condition":{"test":"datum.value % 40 === 0","value":-6},"value":-3.5}}},
      "y":{"field":"v","type":"quantitative","scale":{"domain":[3,8.9]},"axis":{"orient":"left","values":[3,4,5,6,7,8],"title":null,"labelExpr":"datum.value % 2 === 0 ? toString(datum.value) : ''","tickSize":{"condition":{"test":"datum.value % 2 === 0","value":-6},"value":-3.5}}},
      "color":{"field":"s","type":"nominal","scale":{"domain":["BE","rm","rp","rY","rn"],"range":["#000000","#000000","#ff0000","#0000ff","#00dd00"]},"legend":null},
      "strokeDash":{"field":"s","type":"nominal","scale":{"domain":["BE","rm","rp","rY","rn"],"range":[[1,0],[1,0],[9,4],[15,6],[11,3,2,3]]},"legend":null}}},
    {"mark":{"type":"point","opacity":0},
     "encoding":{
      "x":{"field":"x","type":"quantitative","scale":{"domain":[0,150]},"axis":{"orient":"top","values":[0,10,20,30,40,50,60,70,80,90,100,110,120,130,140,150],"labels":false,"title":null,"tickSize":{"condition":{"test":"datum.value % 40 === 0","value":-6},"value":-3.5}}},
      "y":{"field":"v","type":"quantitative","scale":{"domain":[3,8.9]},"axis":{"orient":"right","values":[3,4,5,6,7,8],"labels":false,"title":null,"tickSize":{"condition":{"test":"datum.value % 2 === 0","value":-6},"value":-3.5}}}}}
   ],
   "resolve":{"axis":{"x":"independent","y":"independent"}}},

  {"width":177,"height":26,"view":{"stroke":null},"transform":[{"filter":"false"}],"mark":{"type":"point","opacity":0}},
  {"width":177,"height":26,"view":{"stroke":null},"transform":[{"filter":"false"}],"mark":{"type":"point","opacity":0}},
  {"width":177,"height":26,"view":{"stroke":null},"transform":[{"filter":"false"}],"mark":{"type":"point","opacity":0}},

  {"width":177,"height":66,"transform":[{"filter":"datum.p==='L3'&&datum.s==='BE'"}],
   "layer":[
    {"mark":{"type":"line","interpolate":"monotone","strokeWidth":2.3,"clip":true},
     "encoding":{
      "x":{"field":"x","type":"quantitative","scale":{"domain":[0,150]},"axis":{"orient":"bottom","values":[0,10,20,30,40,50,60,70,80,90,100,110,120,130,140,150],"labels":false,"title":null,"tickSize":{"condition":{"test":"datum.value % 40 === 0","value":-6},"value":-3.5}}},
      "y":{"field":"v","type":"quantitative","scale":{"domain":[-10.5,0.2]},"axis":{"orient":"left","values":[-10,-9,-8,-7,-6,-5,-4,-3,-2,-1,0],"title":"BE/A","titleX":-24,"labelExpr":"datum.value % 4 === 0 ? toString(datum.value) : ''","tickSize":{"condition":{"test":"datum.value % 4 === 0","value":-6},"value":-3.5}}},
      "color":{"field":"s","type":"nominal","scale":{"domain":["BE","rm","rp","rY","rn"],"range":["#000000","#000000","#ff0000","#0000ff","#00dd00"]},"legend":null},
      "strokeDash":{"field":"s","type":"nominal","scale":{"domain":["BE","rm","rp","rY","rn"],"range":[[1,0],[1,0],[9,4],[15,6],[11,3,2,3]]},"legend":null}}},
    {"mark":{"type":"point","opacity":0},
     "encoding":{
      "x":{"field":"x","type":"quantitative","scale":{"domain":[0,150]},"axis":{"orient":"top","values":[0,10,20,30,40,50,60,70,80,90,100,110,120,130,140,150],"labels":false,"title":null,"tickSize":{"condition":{"test":"datum.value % 40 === 0","value":-6},"value":-3.5}}},
      "y":{"field":"v","type":"quantitative","scale":{"domain":[-10.5,0.2]},"axis":{"orient":"right","values":[-10,-9,-8,-7,-6,-5,-4,-3,-2,-1,0],"labels":false,"title":null,"tickSize":{"condition":{"test":"datum.value % 4 === 0","value":-6},"value":-3.5}}}}},
    {"data":{"values":[{"t":"304"}]},"mark":{"type":"text","fontSize":14,"align":"left","baseline":"middle"},"encoding":{"text":{"field":"t","type":"nominal"},"x":{"datum":11,"axis":null},"y":{"datum":-2.0,"axis":null}}},
    {"data":{"values":[{"t":"120"}]},"mark":{"type":"text","fontSize":20,"align":"left","baseline":"middle"},"encoding":{"text":{"field":"t","type":"nominal"},"x":{"datum":31,"axis":null},"y":{"datum":-3.75,"axis":null}}}
   ],
   "resolve":{"axis":{"x":"independent","y":"independent"}}},
  {"width":177,"height":66,"transform":[{"filter":"datum.p==='P3'&&datum.s==='BE'"}],
   "layer":[
    {"mark":{"type":"line","interpolate":"monotone","strokeWidth":2.3,"clip":true},
     "encoding":{
      "x":{"field":"x","type":"quantitative","scale":{"domain":[0,128]},"axis":{"orient":"bottom","values":[0,10,20,30,40,50,60,70,80,90,100,110,120],"labels":false,"title":null,"tickSize":{"condition":{"test":"datum.value % 40 === 0","value":-6},"value":-3.5}}},
      "y":{"field":"v","type":"quantitative","scale":{"domain":[-10.8,0.2]},"axis":{"orient":"left","values":[-10,-9,-8,-7,-6,-5,-4,-3,-2,-1,0],"title":null,"labelExpr":"datum.value % 4 === 0 ? toString(datum.value) : ''","tickSize":{"condition":{"test":"datum.value % 4 === 0","value":-6},"value":-3.5}}},
      "color":{"field":"s","type":"nominal","scale":{"domain":["BE","rm","rp","rY","rn"],"range":["#000000","#000000","#ff0000","#0000ff","#00dd00"]},"legend":null},
      "strokeDash":{"field":"s","type":"nominal","scale":{"domain":["BE","rm","rp","rY","rn"],"range":[[1,0],[1,0],[9,4],[15,6],[11,3,2,3]]},"legend":null}}},
    {"mark":{"type":"point","opacity":0},
     "encoding":{
      "x":{"field":"x","type":"quantitative","scale":{"domain":[0,128]},"axis":{"orient":"top","values":[0,10,20,30,40,50,60,70,80,90,100,110,120],"labels":false,"title":null,"tickSize":{"condition":{"test":"datum.value % 40 === 0","value":-6},"value":-3.5}}},
      "y":{"field":"v","type":"quantitative","scale":{"domain":[-10.8,0.2]},"axis":{"orient":"right","values":[-10,-9,-8,-7,-6,-5,-4,-3,-2,-1,0],"labels":false,"title":null,"tickSize":{"condition":{"test":"datum.value % 4 === 0","value":-6},"value":-3.5}}}}}
   ],
   "resolve":{"axis":{"x":"independent","y":"independent"}}},
  {"width":177,"height":66,"transform":[{"filter":"datum.p==='M3'&&datum.s==='BE'"}],
   "layer":[
    {"mark":{"type":"line","interpolate":"monotone","strokeWidth":2.3,"clip":true},
     "encoding":{
      "x":{"field":"x","type":"quantitative","scale":{"domain":[0,150]},"axis":{"orient":"bottom","values":[0,10,20,30,40,50,60,70,80,90,100,110,120,130,140,150],"labels":false,"title":null,"tickSize":{"condition":{"test":"datum.value % 40 === 0","value":-6},"value":-3.5}}},
      "y":{"field":"v","type":"quantitative","scale":{"domain":[-12.95,-5.75]},"axis":{"orient":"left","values":[-12,-11,-10,-9,-8,-7,-6],"title":null,"labelExpr":"datum.value % 4 === 0 ? toString(datum.value) : ''","tickSize":{"condition":{"test":"datum.value % 4 === 0","value":-6},"value":-3.5}}},
      "color":{"field":"s","type":"nominal","scale":{"domain":["BE","rm","rp","rY","rn"],"range":["#000000","#000000","#ff0000","#0000ff","#00dd00"]},"legend":null},
      "strokeDash":{"field":"s","type":"nominal","scale":{"domain":["BE","rm","rp","rY","rn"],"range":[[1,0],[1,0],[9,4],[15,6],[11,3,2,3]]},"legend":null}}},
    {"mark":{"type":"point","opacity":0},
     "encoding":{
      "x":{"field":"x","type":"quantitative","scale":{"domain":[0,150]},"axis":{"orient":"top","values":[0,10,20,30,40,50,60,70,80,90,100,110,120,130,140,150],"labels":false,"title":null,"tickSize":{"condition":{"test":"datum.value % 40 === 0","value":-6},"value":-3.5}}},
      "y":{"field":"v","type":"quantitative","scale":{"domain":[-12.95,-5.75]},"axis":{"orient":"right","values":[-12,-11,-10,-9,-8,-7,-6],"labels":false,"title":null,"tickSize":{"condition":{"test":"datum.value % 4 === 0","value":-6},"value":-3.5}}}}}
   ],
   "resolve":{"axis":{"x":"independent","y":"independent"}}},

  {"width":177,"height":59,"transform":[{"filter":"datum.p==='L3'&&datum.s!=='BE'"}],
   "title":{"text":"Y=Λ","orient":"bottom","offset":10},
   "layer":[
    {"mark":{"type":"line","interpolate":"monotone","strokeWidth":2.3,"clip":true},
     "encoding":{
      "x":{"field":"x","type":"quantitative","scale":{"domain":[0,150]},"axis":{"orient":"bottom","values":[0,10,20,30,40,50,60,70,80,90,100,110,120,130,140,150],"title":null,"labelExpr":"datum.value % 40 === 0 ? datum.label : ''","tickSize":{"condition":{"test":"datum.value % 40 === 0","value":-6},"value":-3.5}}},
      "y":{"field":"v","type":"quantitative","scale":{"domain":[3,8]},"axis":{"orient":"left","values":[3,4,5,6,7,8],"title":"r (fm)","titleX":-24,"labelExpr":"datum.value % 2 === 0 ? toString(datum.value) : ''","tickSize":{"condition":{"test":"datum.value % 2 === 0","value":-6},"value":-3.5}}},
      "color":{"field":"s","type":"nominal","scale":{"domain":["BE","rm","rp","rY","rn"],"range":["#000000","#000000","#ff0000","#0000ff","#00dd00"]},"legend":null},
      "strokeDash":{"field":"s","type":"nominal","scale":{"domain":["BE","rm","rp","rY","rn"],"range":[[1,0],[1,0],[9,4],[15,6],[11,3,2,3]]},"legend":null}}},
    {"mark":{"type":"point","opacity":0},
     "encoding":{
      "x":{"field":"x","type":"quantitative","scale":{"domain":[0,150]},"axis":{"orient":"top","values":[0,10,20,30,40,50,60,70,80,90,100,110,120,130,140,150],"labels":false,"title":null,"tickSize":{"condition":{"test":"datum.value % 40 === 0","value":-6},"value":-3.5}}},
      "y":{"field":"v","type":"quantitative","scale":{"domain":[3,8]},"axis":{"orient":"right","values":[3,4,5,6,7,8],"labels":false,"title":null,"tickSize":{"condition":{"test":"datum.value % 2 === 0","value":-6},"value":-3.5}}}}}
   ],
   "resolve":{"axis":{"x":"independent","y":"independent"}}},
  {"width":177,"height":59,"transform":[{"filter":"datum.p==='P3'&&datum.s!=='BE'"}],
   "title":{"text":"Y=Σ⁺","orient":"bottom","offset":10},
   "layer":[
    {"mark":{"type":"line","interpolate":"monotone","strokeWidth":2.3,"clip":true},
     "encoding":{
      "x":{"field":"x","type":"quantitative","scale":{"domain":[0,128]},"axis":{"orient":"bottom","values":[0,10,20,30,40,50,60,70,80,90,100,110,120],"title":null,"labelExpr":"datum.value % 40 === 0 ? datum.label : ''","tickSize":{"condition":{"test":"datum.value % 40 === 0","value":-6},"value":-3.5}}},
      "y":{"field":"v","type":"quantitative","scale":{"domain":[3.5,10]},"axis":{"orient":"left","values":[4,5,6,7,8,9,10],"title":null,"labelExpr":"datum.value % 2 === 0 ? toString(datum.value) : ''","tickSize":{"condition":{"test":"datum.value % 2 === 0","value":-6},"value":-3.5}}},
      "color":{"field":"s","type":"nominal","scale":{"domain":["BE","rm","rp","rY","rn"],"range":["#000000","#000000","#ff0000","#0000ff","#00dd00"]},"legend":null},
      "strokeDash":{"field":"s","type":"nominal","scale":{"domain":["BE","rm","rp","rY","rn"],"range":[[1,0],[1,0],[9,4],[15,6],[11,3,2,3]]},"legend":null}}},
    {"mark":{"type":"point","opacity":0},
     "encoding":{
      "x":{"field":"x","type":"quantitative","scale":{"domain":[0,128]},"axis":{"orient":"top","values":[0,10,20,30,40,50,60,70,80,90,100,110,120],"labels":false,"title":null,"tickSize":{"condition":{"test":"datum.value % 40 === 0","value":-6},"value":-3.5}}},
      "y":{"field":"v","type":"quantitative","scale":{"domain":[3.5,10]},"axis":{"orient":"right","values":[4,5,6,7,8,9,10],"labels":false,"title":null,"tickSize":{"condition":{"test":"datum.value % 2 === 0","value":-6},"value":-3.5}}}}}
   ],
   "resolve":{"axis":{"x":"independent","y":"independent"}}},
  {"width":177,"height":59,"transform":[{"filter":"datum.p==='M3'&&datum.s!=='BE'"}],
   "title":{"text":"Y=Σ⁻","orient":"bottom","offset":10},
   "layer":[
    {"mark":{"type":"line","interpolate":"monotone","strokeWidth":2.3,"clip":true},
     "encoding":{
      "x":{"field":"x","type":"quantitative","scale":{"domain":[0,150]},"axis":{"orient":"bottom","values":[0,10,20,30,40,50,60,70,80,90,100,110,120,130,140,150],"title":null,"labelExpr":"datum.value % 40 === 0 ? datum.label : ''","tickSize":{"condition":{"test":"datum.value % 40 === 0","value":-6},"value":-3.5}}},
      "y":{"field":"v","type":"quantitative","scale":{"domain":[3,9]},"axis":{"orient":"left","values":[3,4,5,6,7,8,9],"title":null,"labelExpr":"datum.value % 2 === 0 ? toString(datum.value) : ''","tickSize":{"condition":{"test":"datum.value % 2 === 0","value":-6},"value":-3.5}}},
      "color":{"field":"s","type":"nominal","scale":{"domain":["BE","rm","rp","rY","rn"],"range":["#000000","#000000","#ff0000","#0000ff","#00dd00"]},"legend":null},
      "strokeDash":{"field":"s","type":"nominal","scale":{"domain":["BE","rm","rp","rY","rn"],"range":[[1,0],[1,0],[9,4],[15,6],[11,3,2,3]]},"legend":null}}},
    {"mark":{"type":"point","opacity":0},
     "encoding":{
      "x":{"field":"x","type":"quantitative","scale":{"domain":[0,150]},"axis":{"orient":"top","values":[0,10,20,30,40,50,60,70,80,90,100,110,120,130,140,150],"labels":false,"title":null,"tickSize":{"condition":{"test":"datum.value % 40 === 0","value":-6},"value":-3.5}}},
      "y":{"field":"v","type":"quantitative","scale":{"domain":[3,9]},"axis":{"orient":"right","values":[3,4,5,6,7,8,9],"labels":false,"title":null,"tickSize":{"condition":{"test":"datum.value % 2 === 0","value":-6},"value":-3.5}}}}}
   ],
   "resolve":{"axis":{"x":"independent","y":"independent"}}}
],
"config":{
 "font":"Liberation Serif, Times New Roman, DejaVu Serif, serif",
 "view":{"stroke":"#000000","strokeWidth":2.5},
 "axis":{"domain":false,"grid":false,"tickColor":"#000000","tickWidth":2,"labelFont":"Liberation Serif, Times New Roman, DejaVu Serif, serif","labelFontSize":15,"labelColor":"#000000","labelFlush":false,"labelOverlap":false,"labelBound":false,"titleFont":"Liberation Serif, Times New Roman, DejaVu Serif, serif","titleFontSize":19,"titleColor":"#000000","titleFontWeight":"normal"},
 "axisX":{"labelPadding":9},
 "axisY":{"labelPadding":10},
 "text":{"font":"Liberation Serif, Times New Roman, DejaVu Serif, serif","color":"#000000"},
 "title":{"font":"Liberation Serif, Times New Roman, DejaVu Serif, serif","fontSize":20,"fontWeight":"normal","color":"#000000","anchor":"middle"}
}
}
